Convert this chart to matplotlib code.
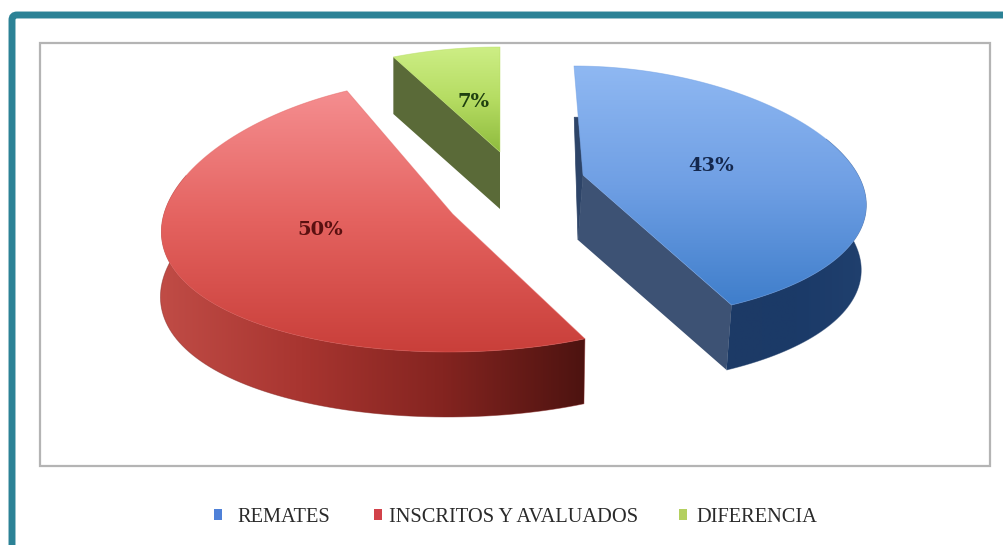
import numpy as np
import matplotlib
matplotlib.use("Agg")
import matplotlib.pyplot as plt
from matplotlib.colors import LinearSegmentedColormap
from matplotlib.patches import FancyBboxPatch, Polygon, Rectangle

# Data
categories = ["REMATES", "INSCRITOS Y AVALUADOS", "DIFERENCIA"]
values = [43, 50, 7]
labels = ["43%", "50%", "7%"]

# how each slice is projected on the page (exploded centre, radii, depth, skew)
cx = [583, 452.6, 500]
cy = [175, 214, 152]
rx = [275, 288.6, 281]
ry_back = [109, 136, 105]
ry_front = [145.4, 138, 105]
persp = [0.22, 0.12, 0.12]
skew = [9, -4.3, 0]
depth = [(-5, 65), (-1, 65), (0, 57)]

face_cols = [["#8fb8f2", "#6f9fe4", "#3f7ecb"],
             ["#f58e90", "#e4625f", "#c93f3a"],
             ["#cdee85", "#b5dc62", "#8fbb3e"]]
side_cols = [["#1d3a66", "#1b3a68", "#20406e"],
             ["#c04c46", "#a83530", "#842420", "#4d1310"]]
wall_cols = ["#3d5274", None, "#5a6a38"]
text_cols = ["#14284e", "#5a1010", "#1f4010"]
label_pos = [(711, 166), (320, 230), (474, 102)]
legend_cols = ["#4f81d8", "#d2424a", "#b4d060"]
legend_sq = [218, 378, 683]
legend_txt = [237, 389, 696]

frac = np.cumsum([0] + values) / sum(values)


def project(i, theta):
    u, v = np.sin(theta), -np.cos(theta)
    a = (ry_front[i] + ry_back[i]) / 2
    b = (ry_front[i] - ry_back[i]) / 2
    x = cx[i] + rx[i] * u * (1 + persp[i] * v) + skew[i] * v
    y = cy[i] + v * (a + b * v)
    return np.column_stack([x, y])


def gradient(ax, pts, cols, horizontal=False, zorder=2):
    cmap = LinearSegmentedColormap.from_list("g", cols)
    ramp = np.linspace(0, 1, 256)
    ramp = ramp[None, :] if horizontal else ramp[:, None]
    x0, y0 = pts.min(axis=0)
    x1, y1 = pts.max(axis=0)
    im = ax.imshow(ramp, cmap=cmap, extent=(x0, x1, y1, y0), aspect="auto",
                   interpolation="bilinear", zorder=zorder)
    clip = Polygon(pts, closed=True, transform=ax.transData)
    im.set_clip_path(clip)
    # thin edge hides the jagged clip
    ax.add_patch(Polygon(pts, closed=True, fill=False, lw=0.6, zorder=zorder,
                         edgecolor=cols[len(cols) // 2], alpha=0.5))


fig = plt.figure(figsize=(10.04, 5.45), dpi=100)
ax = fig.add_axes([0, 0, 1, 1])
ax.set_autoscale_on(False)
ax.set_xlim(0, 1004)
ax.set_ylim(545, 0)
ax.axis("off")

# outer teal border runs off the page on the right and bottom
ax.add_patch(FancyBboxPatch((12, 15), 1010, 600, boxstyle="round,pad=0,rounding_size=5",
                            fc="white", ec="#2c8296", lw=5, zorder=0))
ax.add_patch(Rectangle((40, 43), 950, 422.5, fc="white", ec="#b4b4b4", lw=1.6, zorder=1))

for i in range(len(values)):
    th = 2 * np.pi * np.linspace(frac[i], frac[i + 1], 120)
    arc = project(i, th)
    apex = np.array([[cx[i], cy[i]]])
    d = np.array(depth[i])

    # outer rim (only the part facing us), then the cut walls, then the top face
    if i != 2:
        front = arc[np.cos(th) < 0.3]
        rim = np.vstack([front, (front + d)[::-1]])
        gradient(ax, rim, side_cols[i], horizontal=True, zorder=3)
    if i == 0:
        # sliver of the back wall left of the blue slice
        p = arc[:1] + 0.47 * (apex - arc[:1])
        back = np.vstack([apex, p, p + (-4, 0), apex + d])
        ax.add_patch(Polygon(back, closed=True, fc="#2d4468", ec="#2d4468", lw=0.5, zorder=4))
        wall = np.vstack([apex, arc[-1:], arc[-1:] + d, apex + d])
        ax.add_patch(Polygon(wall, closed=True, fc=wall_cols[i], ec="none", zorder=4))
    if i == 2:
        wall = np.vstack([apex, arc[:1], arc[:1] + d, apex + d])
        ax.add_patch(Polygon(wall, closed=True, fc=wall_cols[i], ec="none", zorder=4))
    gradient(ax, np.vstack([apex, arc]), face_cols[i], zorder=5)

    ax.text(label_pos[i][0], label_pos[i][1], labels[i], color=text_cols[i], fontsize=14,
            family="DejaVu Serif", weight="bold", ha="center", va="center", zorder=6)

    ax.add_patch(Rectangle((legend_sq[i] - 4, 509), 8, 11, fc=legend_cols[i], ec="none", zorder=6))
    ax.text(legend_txt[i], 517, categories[i], color="#2a2a2a", fontsize=14.7,
            family="Liberation Serif", ha="left", va="center", zorder=6)

plt.savefig("out.png", dpi=100)
